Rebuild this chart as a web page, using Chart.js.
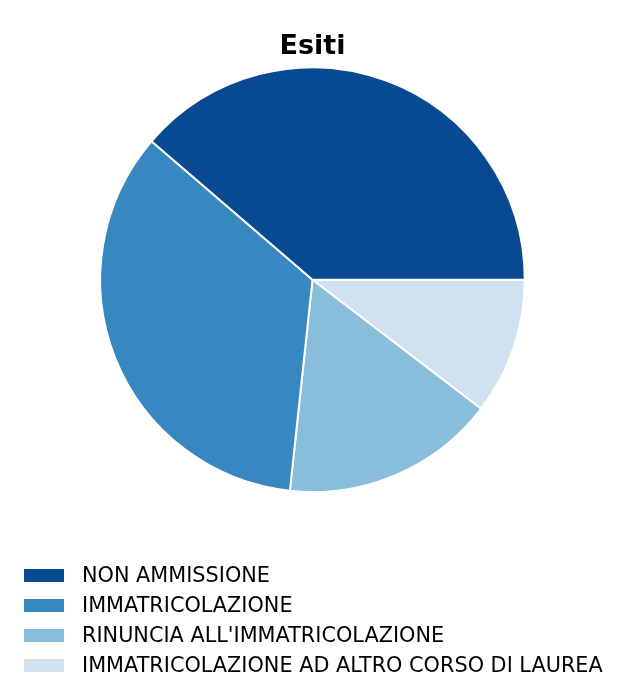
<!DOCTYPE html>
<html>
<head>
<meta charset="utf-8">
<script src="https://cdn.jsdelivr.net/npm/chart.js@4"></script>
<style>
	body{ margin:0; background:#fff; }
	#wrap{ position:relative; width:625px; height:700px; }
	#legend{ position:absolute; left:24px; top:560px; font-family:"DejaVu Sans", sans-serif; font-size:20.8px; color:#000; }
	#legend div{ height:30px; display:flex; align-items:center; white-space:nowrap; }
	#legend span.box{ display:inline-block; width:40px; height:13px; margin-right:18px; }
</style>
</head>
<body>
<div id="wrap">
	<canvas id="c" width="625" height="700"></canvas>
	<div id="legend"></div>
</div>
<script>
// dati (percentuali stimate)
var categories = ['NON AMMISSIONE', 'IMMATRICOLAZIONE', "RINUNCIA ALL'IMMATRICOLAZIONE", 'IMMATRICOLAZIONE AD ALTRO CORSO DI LAUREA'];
var values = [38.7, 34.6, 16.3, 10.4];
var colors = ['#084a91', '#3787c0', '#88bedc', '#d0e1f2'];

// chart.js gira in senso orario, quindi ordine invertito partendo dalle ore 3
var rev = function(a){ return a.slice().reverse(); };

new Chart(document.getElementById('c'), {
	type: 'pie',
	data: {
		labels: rev(categories),
		datasets: [{
			data: rev(values),
			backgroundColor: rev(colors),
			borderColor: '#fff',
			borderWidth: 2
		}]
	},
	options: {
		responsive: false,
		animation: false,
		rotation: 90,
		layout: { padding: { top: 15, bottom: 207 } },
		plugins: {
			legend: { display: false },
			tooltip: { enabled: false },
			title: {
				display: true,
				text: 'Esiti',
				color: '#000',
				font: { family: 'DejaVu Sans', size: 27, weight: 'bold' },
				padding: { top: 16, bottom: 3 }
			}
		}
	}
});

// legenda in basso, una voce per riga
var $l = document.getElementById('legend');
for (var i = 0; i < categories.length; i++){
	var $1 = document.createElement('div');
	$1.innerHTML = '<span class="box" style="background:' + colors[i] + '"></span>' + categories[i];
	$l.appendChild($1);
}
</script>
</body>
</html>
